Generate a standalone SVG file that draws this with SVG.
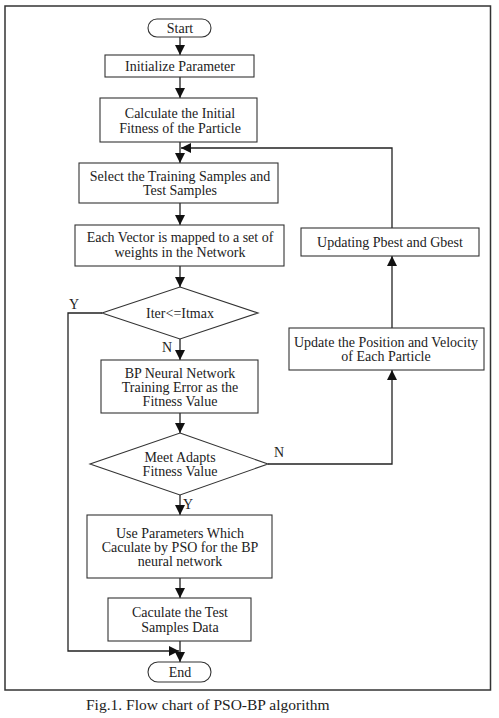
<svg xmlns="http://www.w3.org/2000/svg" width="499" height="718" viewBox="0 0 499 718">
<style>
.box{fill:#fff;stroke:#333;stroke-width:1.1}
.c{fill:none;stroke:#222;stroke-width:1.3}
</style>
<defs>
<marker id="ah" markerUnits="userSpaceOnUse" markerWidth="10" markerHeight="10" refX="10" refY="5" orient="auto">
<path d="M0,0 L10,5 L0,10 z" fill="#111"/>
</marker>
</defs>
<rect x="0" y="0" width="499" height="718" fill="#fff"/>
<rect x="5" y="6" width="485.5" height="684" fill="none" stroke="#333" stroke-width="1.5"/>
<g font-family="Liberation Serif, Times New Roman, serif" font-size="14" fill="#222">
<g id="connectors">
<path class="c" d="M180,37 V55" marker-end="url(#ah)"/>
<path class="c" d="M180,77 V98" marker-end="url(#ah)"/>
<path class="c" d="M180,142 V163" marker-end="url(#ah)"/>
<path class="c" d="M392,228 V148 H181" marker-end="url(#ah)"/>
<path class="c" d="M180,203 V225" marker-end="url(#ah)"/>
<path class="c" d="M180,266 V287" marker-end="url(#ah)"/>
<path class="c" d="M102,313 H68 V651 H179" marker-end="url(#ah)"/>
<path class="c" d="M180,339 V360" marker-end="url(#ah)"/>
<path class="c" d="M180,413 V433" marker-end="url(#ah)"/>
<path class="c" d="M268,464 H392 V370" marker-end="url(#ah)"/>
<path class="c" d="M392,328 V256" marker-end="url(#ah)"/>
<path class="c" d="M180,495 V515" marker-end="url(#ah)"/>
<path class="c" d="M180,578 V598" marker-end="url(#ah)"/>
<path class="c" d="M180,641 V662" marker-end="url(#ah)"/>
<text x="69" y="309">Y</text>
<text x="162" y="352">N</text>
<text x="274" y="457">N</text>
<text x="183" y="509">Y</text>
</g>
<g text-anchor="middle">
<g id="start">
<rect class="box" x="148" y="19" width="63" height="18" rx="9"/>
<text x="180" y="33">Start</text>
</g>
<g id="init">
<rect class="box" x="105" y="55" width="149" height="22"/>
<text x="180" y="71">Initialize Parameter</text>
</g>
<g id="calc">
<rect class="box" x="100" y="98" width="157" height="44"/>
<text x="180" y="118">Calculate the Initial</text>
<text x="180" y="133">Fitness of the Particle</text>
</g>
<g id="select">
<rect class="box" x="79" y="163" width="199" height="40"/>
<text x="180" y="181">Select the Training Samples and</text>
<text x="180" y="195">Test Samples</text>
</g>
<g id="vector">
<rect class="box" x="75" y="225" width="209" height="41"/>
<text x="180" y="242">Each Vector is mapped to a set of</text>
<text x="180" y="257">weights in the Network</text>
</g>
<g id="updating">
<rect class="box" x="301" y="228" width="178" height="28"/>
<text x="390" y="247">Updating Pbest and Gbest</text>
</g>
<g id="iter">
<polygon class="box" points="180,287 258,313 180,339 102,313"/>
<text x="180" y="318">Iter&lt;=Itmax</text>
</g>
<g id="bp">
<rect class="box" x="101" y="360" width="157" height="53"/>
<text x="180" y="378">BP Neural Network</text>
<text x="180" y="392">Training Error  as the</text>
<text x="180" y="406">Fitness Value</text>
</g>
<g id="update">
<rect class="box" x="289" y="328" width="195" height="42"/>
<text x="386" y="347">Update the Position and Velocity</text>
<text x="386" y="361">of Each Particle</text>
</g>
<g id="meet">
<polygon class="box" points="180,433 268,464 180,495 90,464"/>
<text x="180" y="462">Meet Adapts</text>
<text x="180" y="476">Fitness Value</text>
</g>
<g id="use">
<rect class="box" x="87" y="515" width="185" height="63"/>
<text x="180" y="538">Use Parameters Which</text>
<text x="180" y="552">Caculate by PSO for the BP</text>
<text x="180" y="566">neural network</text>
</g>
<g id="testdata">
<rect class="box" x="108" y="598" width="143" height="43"/>
<text x="180" y="617">Caculate the Test</text>
<text x="180" y="632">Samples Data</text>
</g>
<g id="end">
<rect class="box" x="148" y="662" width="63" height="20" rx="10"/>
<text x="180" y="677">End</text>
</g>
</g>
<text x="86" y="710" font-size="15.5">Fig.1. Flow chart of PSO-BP algorithm</text>
</g>
</svg>
